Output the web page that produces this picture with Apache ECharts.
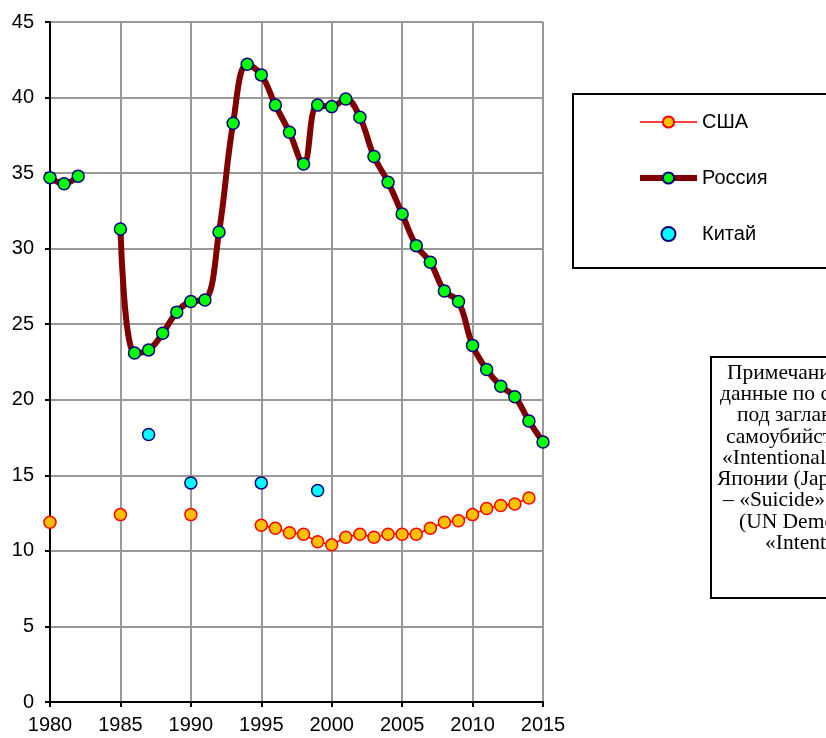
<!DOCTYPE html>
<html><head><meta charset="utf-8">
<script src="https://cdn.jsdelivr.net/npm/echarts@6/dist/echarts.min.js"></script>
<style>html,body{margin:0;padding:0;background:#fff}#c{width:826px;height:738px}</style>
</head><body><div id="c"></div>
<script>
const years = [];
for (let y = 1980; y <= 2015; y++) years.push(y);
const usaValues = [11.9,null,null,null,null,12.4,null,null,null,null,12.4,null,null,null,null,
  11.7,11.5,11.2,11.1,10.6,10.4,10.9,11.1,10.9,11.1,11.1,11.1,11.5,11.9,12.0,12.4,12.8,13.0,13.1,13.5,null];
const russiaValues = [34.7,34.3,34.8,null,null,31.3,23.1,23.3,24.4,25.8,26.5,26.6,31.1,38.3,42.2,41.5,
  39.5,37.7,35.6,39.5,39.4,39.9,38.7,36.1,34.4,32.3,30.2,29.1,27.2,26.5,23.6,22.0,20.9,20.2,18.6,17.2];
const chinaYears = [1987,1990,1995,1999];
const chinaValues = [17.7,14.5,14.5,14.0];
const seriesNames = ['США','Россия','Китай'];
const noteLines = [
  'Примечание: для США',
  'данные по самоубийствам',
  'под заглавием',
  'самоубийство –',
  '«Intentional self-harm», для',
  'Японии (Japan) и Китая',
  '– «Suicide»',
  '(UN Demographic',
  '«Intentional self-harm»'
];
const noteStarts = [727,720,737,726,722,717,723,739,765];

const pair = (xs, vs) => xs.map((x, i) => [x, vs[i]]);
const font = 'Liberation Sans, Arial, sans-serif';

const chart = echarts.init(document.getElementById('c'), null, {renderer: 'canvas'});
const graphics = [
  {type:'rect', shape:{x:573, y:94, width:320, height:174}, style:{fill:'none', stroke:'#000', lineWidth:2}, z:10},
  {type:'rect', shape:{x:711, y:357, width:320, height:241}, style:{fill:'none', stroke:'#000', lineWidth:2}, z:10}
];
noteLines.forEach((t, i) => {
  graphics.push({type:'text', x: noteStarts[i], y: 373 + 21.3 * i, z:10,
    style:{text:t, font:'21.5px "Liberation Serif", "Times New Roman", serif', fill:'#000', textVerticalAlign:'middle', textAlign:'left'}});
});

chart.setOption({
  animation: false,
  backgroundColor: '#fff',
  grid: {left: 50, right: 283, top: 22, bottom: 36, containLabel: false},
  legend: {
    orient: 'vertical', left: 637, top: 112, padding: 0,
    itemWidth: 57, itemHeight: 14, itemGap: 36,
    data: [
      {name: seriesNames[0], lineStyle: {width: 1.5, color: '#ff0000'}},
      {name: seriesNames[1], lineStyle: {width: 6, color: '#800000'}},
      {name: seriesNames[2]}
    ],
    textStyle: {fontFamily: font, fontSize: 20, color: '#000', lineHeight: 20}
  },
  xAxis: {
    type: 'value', min: 1980, max: 2015, interval: 5,
    axisLine: {show: true, onZero: false, lineStyle: {color: '#000', width: 2}},
    axisTick: {show: true, length: 5, lineStyle: {color: '#000', width: 2}},
    axisLabel: {fontFamily: font, fontSize: 20, color: '#000', margin: 13, formatter: v => String(v)},
    splitLine: {show: true, lineStyle: {color: '#999', width: 2}}
  },
  yAxis: {
    type: 'value', min: 0, max: 45, interval: 5,
    axisLine: {show: true, lineStyle: {color: '#000', width: 2}},
    axisTick: {show: true, length: 5, lineStyle: {color: '#000', width: 2}},
    axisLabel: {fontFamily: font, fontSize: 20, color: '#000', margin: 16},
    splitLine: {show: true, lineStyle: {color: '#999', width: 2}}
  },
  series: [
    {
      name: seriesNames[0], type: 'line', data: pair(years, usaValues),
      connectNulls: false, showAllSymbol: true, symbol: 'circle', symbolSize: 12,
      lineStyle: {color: '#ff0000', width: 1.5},
      itemStyle: {color: '#ffc000', borderColor: '#ff0000', borderWidth: 1.5},
      z: 3
    },
    {
      name: seriesNames[1], type: 'line', data: pair(years, russiaValues),
      connectNulls: false, showAllSymbol: true, smooth: 0.4, symbol: 'circle', symbolSize: 12,
      lineStyle: {color: '#800000', width: 6},
      itemStyle: {color: '#00ff00', borderColor: '#000080', borderWidth: 1.5},
      z: 2
    },
    {
      name: seriesNames[2], type: 'scatter', data: pair(chinaYears, chinaValues),
      symbol: 'circle', symbolSize: 12,
      itemStyle: {color: '#00ffff', borderColor: '#000080', borderWidth: 1.5, opacity: 1},
      z: 4
    }
  ],
  graphic: graphics
});
</script></body></html>
